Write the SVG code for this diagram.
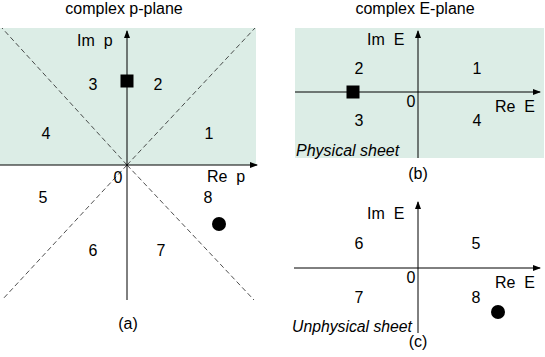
<svg xmlns="http://www.w3.org/2000/svg" width="545" height="357" viewBox="0 0 545 357">
<style>
text{font-family:"Liberation Sans",Arial,sans-serif;font-size:16px;fill:#000;white-space:pre}
.m{text-anchor:middle}
.i{font-style:italic}
.ax{stroke:#000;stroke-width:1;fill:none}
.d{stroke:#222;stroke-width:0.8;stroke-dasharray:5 3;fill:none}
.sh{fill:#dcede6}
</style>
<defs>
<marker id="ah" markerWidth="8" markerHeight="6" refX="7" refY="3" orient="auto" markerUnits="userSpaceOnUse">
<path d="M0,0 L8,3 L0,6 Z" fill="#000"/>
</marker>
</defs>
<g id="backgrounds">
<rect class="sh" x="0" y="28" width="256" height="137"/>
<rect class="sh" x="295" y="28" width="249" height="130"/>
</g>
<g id="connectors">
<line class="d" x1="127" y1="165" x2="2" y2="28"/>
<line class="d" x1="127" y1="165" x2="255" y2="28"/>
<line class="d" x1="127" y1="165" x2="2" y2="300"/>
<line class="d" x1="127" y1="165" x2="254" y2="300"/>
<line class="ax" x1="0" y1="165" x2="257" y2="165" marker-end="url(#ah)"/>
<line class="ax" x1="127" y1="300" x2="127" y2="31" marker-end="url(#ah)"/>
<line class="ax" x1="295" y1="92" x2="540" y2="92" marker-end="url(#ah)"/>
<line class="ax" x1="418" y1="158" x2="418" y2="31" marker-end="url(#ah)"/>
<line class="ax" x1="294" y1="268" x2="540" y2="268" marker-end="url(#ah)"/>
<line class="ax" x1="418" y1="333" x2="418" y2="202" marker-end="url(#ah)"/>
</g>
<g id="panel-a">
<text class="m" x="124" y="14">complex p-plane</text>
<text x="77" y="46">Im  p</text>
<text x="207" y="182">Re  p</text>
<text class="m" x="118" y="183">0</text>
<text class="m" x="93" y="90">3</text>
<text class="m" x="158" y="90">2</text>
<text class="m" x="46" y="139">4</text>
<text class="m" x="209" y="139">1</text>
<text class="m" x="43" y="203">5</text>
<text class="m" x="208" y="203">8</text>
<text class="m" x="93" y="256">6</text>
<text class="m" x="161" y="256">7</text>
<text class="m" x="128" y="329">(a)</text>
<rect id="square-a" x="120.5" y="74.5" width="13" height="13" fill="#000"/>
<circle id="circle-a" cx="219" cy="224" r="7" fill="#000"/>
</g>
<g id="panel-b">
<text class="m" x="415" y="14">complex E-plane</text>
<text x="367" y="45">Im  E</text>
<text x="495" y="112">Re  E</text>
<text class="m" x="411" y="107">0</text>
<text class="m" x="359" y="74">2</text>
<text class="m" x="477" y="74">1</text>
<text class="m" x="359" y="126">3</text>
<text class="m" x="477" y="126">4</text>
<text class="i" x="296" y="156">Physical sheet</text>
<text class="m" x="418" y="179">(b)</text>
<rect id="square-b" x="346.5" y="85.5" width="13" height="13" fill="#000"/>
</g>
<g id="panel-c">
<text x="367" y="219">Im  E</text>
<text x="495" y="288">Re  E</text>
<text class="m" x="411" y="283">0</text>
<text class="m" x="359" y="249">6</text>
<text class="m" x="476" y="249">5</text>
<text class="m" x="359" y="303">7</text>
<text class="m" x="476" y="303">8</text>
<text class="i" x="292" y="332" textLength="120" lengthAdjust="spacingAndGlyphs">Unphysical sheet</text>
<text class="m" x="418" y="347">(c)</text>
<circle id="circle-c" cx="498" cy="312" r="7" fill="#000"/>
</g>
</svg>
